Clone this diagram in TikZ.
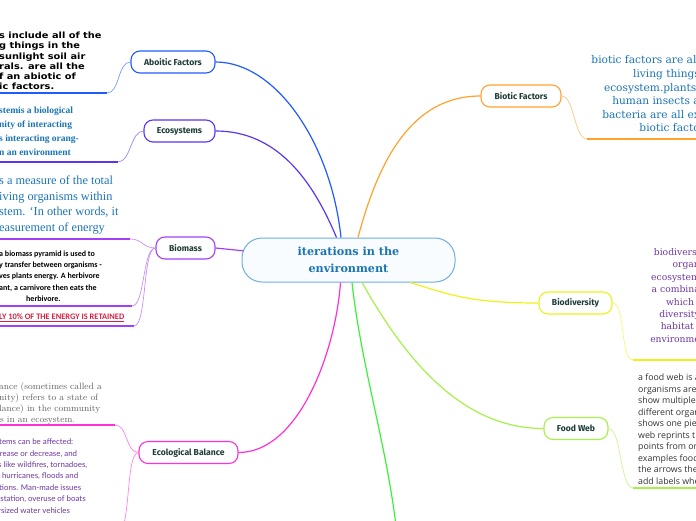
\documentclass[tikz,border=0pt]{standalone}
\usepackage{fontspec}
\newfontfamily\topicfont{Fira Sans}
\newfontfamily\heavyfont{DejaVu Sans}[FakeStretch=1.14]
\newfontfamily\slabfont{DejaVu Serif}
\newfontfamily\bookfont{Liberation Serif}
\newfontfamily\calfont{Carlito}
\newfontfamily\roundfont{Lato}
\newfontfamily\plainfont{Open Sans}

\definecolor{aboiticblue}{HTML}{1F5BFF}
\definecolor{ecopurple}{HTML}{5B35F0}
\definecolor{biomassviolet}{HTML}{A340F5}
\definecolor{balancepink}{HTML}{FF30DC}
\definecolor{bioticorange}{HTML}{FFA22E}
\definecolor{diversityyellow}{HTML}{EEF218}
\definecolor{foodgreen}{HTML}{A6F04A}
\definecolor{trunkgreen}{HTML}{3CF03C}
\definecolor{rootblue}{HTML}{6EAEE2}
\definecolor{labelink}{HTML}{1D3C38}
\definecolor{noteblue}{HTML}{1A74B4}
\definecolor{notepurple}{HTML}{6E35A0}
\definecolor{retainred}{HTML}{D62040}

\begin{document}
\begin{tikzpicture}[x=1pt, y=-1pt]
    \tikzset{
      topic/.style={draw, rounded corners=9pt, line width=1.1pt, fill=white,
        minimum height=22pt, inner sep=0pt, text=labelink,
        font=\topicfont\bfseries\fontsize{8.6}{10}\selectfont}, % the branch boxes
      branch/.style={line width=1.2pt}, % root to branch box
      twig/.style={line width=0.7pt}, % branch box to its note
      underline/.style={line width=1.8pt}, % the line under a note
      leftnote/.style={align=left, anchor=west, inner sep=0pt}, % cut by the left edge
      rightnote/.style={align=right, anchor=east, inner sep=0pt}, % cut by the right edge
    }
    \useasboundingbox (0,0) rectangle (696,520);
    \clip (0,0) rectangle (696,520);

    % root and branch boxes
    \node[draw=rootblue, fill=rootblue!4, rounded corners=20pt, line width=1pt,
      minimum width=213pt, minimum height=44pt, align=center, text=noteblue,
      font=\slabfont\bfseries\fontsize{11.2}{16.5}\selectfont] (root) at (348.5,260) {iterations in the\\environment};
    \node[topic, draw=aboiticblue, minimum width=84pt] (aboitic) at (173,62) {Aboitic Factors};
    \node[topic, draw=ecopurple, minimum width=71pt] (ecosys) at (179.5,131) {Ecosystems};
    \node[topic, draw=biomassviolet, minimum width=59pt] (biomass) at (185.5,248) {Biomass};
    \node[topic, draw=balancepink, minimum width=99pt] (balance) at (188.5,452.5) {Ecological Balance};
    \node[topic, draw=bioticorange, minimum width=80pt] (biotic) at (521,96) {Biotic Factors};
    \node[topic, draw=diversityyellow, minimum width=73pt] (biodiv) at (575.5,303) {Biodiversity};
    \node[topic, draw=foodgreen, minimum width=64pt] (foodweb) at (576,428.5) {Food Web};
    \coordinate (trunkend) at (398,545);

    % notes, as far as the edges of the picture let them show
    \node[leftnote, font=\heavyfont\bfseries\fontsize{8.6}{10.2}\selectfont] (abioticnote) at (-1,61)
      {s include all of the\\g things in the\\sunlight soil air\\rals. are  all the\\f an abiotic of\\ic factors.};
    \node[leftnote, text=noteblue, font=\bookfont\bfseries\fontsize{9.5}{14}\selectfont] (ecosysnote) at (-1,131.5)
      {stemis a biological\\nity of interacting\\s interacting orang-\\n an environment};
    \node[leftnote, text=noteblue, font=\bookfont\fontsize{12.3}{15.5}\selectfont] (biomassnote) at (-1,205)
      {s a measure of the total\\iving organisms within\\stem. ‘In other words, it\\easurement of energy};
    \node[leftnote, font=\calfont\bfseries\fontsize{8}{11.3}\selectfont] (pyramidnote) at (-1,276)
      {a biomass pyramid is used to\\y transfer between organisms -\\ves plants energy.  A herbivore\\ant, a carnivore then eats the\\\hspace*{27pt}herbivore.};
    \node[leftnote, text=retainred, font=\calfont\bfseries\fontsize{8.4}{9}\selectfont] (retainnote) at (-1,318)
      {\underline{LY 10\%  OF THE ENERGY IS RETAINED}};
    \node[leftnote, text=black!62, font=\rmfamily\fontsize{9.2}{11.3}\selectfont] (balancenote) at (-1,403.5)
      {ance (sometimes called a\\nity) refers to a state of\\lance) in the community\\\hspace*{-7pt}ms in an ecosystem.};
    \node[leftnote, text=notepurple, font=\roundfont\fontsize{7.9}{11.4}\selectfont] (affectnote) at (-1,476)
      {tems can be affected:\\\hspace*{-3pt}crease or decrease, and\\\hspace*{-1pt}s like wildfires, tornadoes,\\\hspace*{-1pt}, hurricanes, floods and\\tions.  Man-made issues\\\hspace*{-3pt}estation, overuse of boats\\\hspace*{-1pt}rsized water vehicles};
    \node[rightnote, text=noteblue, font=\slabfont\fontsize{10.6}{13.6}\selectfont] (bioticnote) at (700,94)
      {biotic factors are all\\living things\\ecosystem.plants,\\human  insects    a\\bacteria are all ex\\biotic facto};
    \node[rightnote, text=notepurple, font=\slabfont\fontsize{9.2}{12.4}\selectfont] (biodivnote) at (700,295.5)
      {biodiversi\\organ\\ecosystem\\a combina\\which i\\diversity\\habitat i\\environme};
    \node[leftnote, text=black!80, font=\plainfont\fontsize{8.8}{11.5}\selectfont] (foodwebnote) at (638,429)
      {a food web is a\\organisms are\\show multiple\\different organ\\shows one piec\\web reprints the\\points  from on\\examples food w\\the arrows the\\add labels whe};

    % underline ends
    \coordinate (abioticend) at (107,93);   \coordinate (abioticedge) at (-5,93);
    \coordinate (ecosysend) at (118,162);   \coordinate (ecosysedge) at (-5,162);
    \coordinate (biomassend) at (130,239);  \coordinate (biomassedge) at (-5,239);
    \coordinate (pyramidend) at (132,306);  \coordinate (pyramidedge) at (-5,306);
    \coordinate (retainend) at (134,326);   \coordinate (retainedge) at (-5,326);
    \coordinate (balanceend) at (115,425);  \coordinate (balanceedge) at (-5,425);
    \coordinate (affectend) at (118,532);   \coordinate (affectedge) at (-5,532);
    \coordinate (bioticend) at (587,139);   \coordinate (bioticedge) at (700,139);
    \coordinate (biodivend) at (633,360);   \coordinate (biodivedge) at (700,360);
    \coordinate (foodwebend) at (633,488);  \coordinate (foodwebedge) at (700,488);

    % root to branch boxes
    \draw[branch, aboiticblue] ([xshift=-7.5pt]root.north) .. controls +(-10,-95) and +(60,0) .. (aboitic.east);
    \draw[branch, ecopurple] ([xshift=-12pt]root.north) .. controls +(-25,-60) and +(60,0) .. (ecosys.east);
    \draw[branch, biomassviolet, shorten >=-2pt] (biomass.east) -- (root.175);
    \draw[branch, balancepink] ([xshift=-8pt]root.south) .. controls +(-5,70) and +(60,0) .. (balance.east);
    \draw[branch, bioticorange] ([xshift=9.5pt]root.north) .. controls +(20,-75) and +(-70,0) .. (biotic.west);
    \draw[branch, diversityyellow] ([xshift=61.5pt]root.south) .. controls +(40,12) and +(-70,0) .. (biodiv.west);
    \draw[branch, foodgreen] ([xshift=13.5pt]root.south) .. controls +(45,80) and +(-80,0) .. (foodweb.west);
    \draw[branch, trunkgreen] ([xshift=3.5pt]root.south) .. controls +(10,90) and +(-8,-90) .. (trunkend);

    % branch boxes to notes
    \foreach \topic/\tip/\col in {aboitic/abiotic/aboiticblue, ecosys/ecosys/ecopurple,
        biomass/biomass/biomassviolet, biomass/pyramid/biomassviolet, biomass/retain/biomassviolet,
        balance/balance/balancepink, balance/affect/balancepink}{
      \draw[twig, \col!60] (\tip end) .. controls +(13,0) and +(-13,0) .. (\topic.west);
      \draw[underline, \col] (\tip end) -- (\tip edge);
    }
    \foreach \topic/\tip/\col in {biotic/biotic/bioticorange, biodiv/biodiv/diversityyellow,
        foodweb/foodweb/foodgreen}{
      \draw[twig, \col!60] (\topic.east) .. controls +(13,0) and +(-13,0) .. (\tip end);
      \draw[underline, \col] (\tip end) -- (\tip edge);
    }
\end{tikzpicture}
\end{document}
